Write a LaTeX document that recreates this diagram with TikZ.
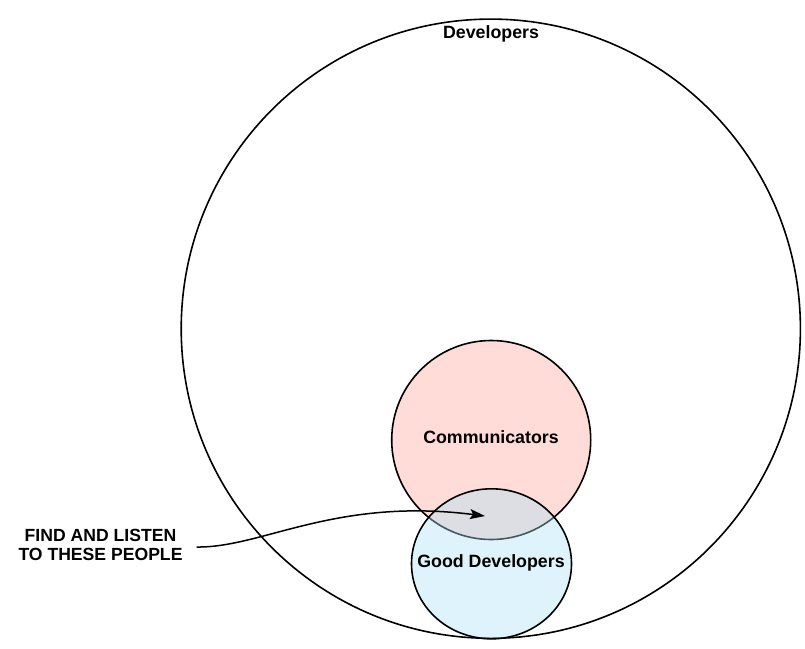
\documentclass[tikz,border=0pt]{standalone}
\usepackage{fontspec}
\setmainfont{Liberation Sans}
\usetikzlibrary{arrows.meta}
\definecolor{commpink}{RGB}{255,220,216}
\definecolor{goodblue}{RGB}{172,226,246}
\tikzset{
  setline/.style={draw=black,line width=1.6pt},
  lbl/.style={font=\fontsize{17.8}{20}\selectfont\bfseries,inner sep=0pt},
  note/.style={font=\fontsize{17.6}{19}\selectfont\bfseries,align=center,inner sep=0pt},
  arr/.style={line width=1.5pt,-{Stealth[length=15pt,width=10pt,inset=3pt]}}
}
\begin{document}
\begin{tikzpicture}[x=1pt,y=-1pt]
        \useasboundingbox (0,0) rectangle (805,648);
        \coordinate (D) at (490.8,328.7);
        \coordinate (C) at (491.2,440);
        \coordinate (G) at (491.5,563.8);
        \coordinate (target) at (485,516);
        % sets
        \draw[setline] (D) circle (309.6);
        \draw[setline,fill=commpink] (C) circle (99.5);
        \draw[setline,fill=goodblue,fill opacity=0.40] (G) ellipse (80 and 75);
        % labels
        \node[lbl] (dev) at (491,34) {Developers};
        \node[lbl] (comm) at (491,437) {Communicators};
        \node[lbl] (good) at (491,563) {Good Developers};
        \node[note] (find) at (100.5,545) {FIND AND LISTEN\\TO THESE PEOPLE};
        \draw[arr] ([xshift=14pt,yshift=-2pt]find.east) .. controls (262,548) and (335,497) .. (target);
\end{tikzpicture}
\end{document}
